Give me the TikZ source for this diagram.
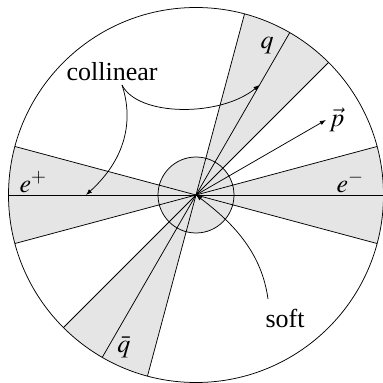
\documentclass[tikz,border=0pt]{standalone}
\usepackage{mathptmx}
\usepackage{fontspec}
\setmainfont{Liberation Serif}
\usetikzlibrary{arrows.meta}
\begin{document}
\begin{tikzpicture}[x=1pt,y=1pt,
  wedge/.style={fill=black!10},
  thin line/.style={line width=0.75pt},
  lbl/.style={inner sep=0pt,font=\fontsize{26}{31}\selectfont},
  tip/.style={-{Latex[length=6pt,width=4.5pt]}}]
\useasboundingbox (-196,-188) rectangle (187,195);
\def\R{187.5}
\coordinate (O) at (0,0);
% shaded regions
\fill[wedge] (O) -- (-15:\R) arc (-15:15:\R) -- cycle;
\fill[wedge] (O) -- (165:\R) arc (165:195:\R) -- cycle;
\fill[wedge] (O) -- (45:\R) arc (45:75:\R) -- cycle;
\fill[wedge] (O) -- (225:\R) arc (225:255:\R) -- cycle;
\fill[wedge] (O) circle (38);
\draw[thin line] (O) circle (38);
% boundary lines
\foreach \a in {-15,15,165,195,45,75,225,255,240}
  \draw[thin line] (O) -- (\a:\R);
\coordinate (Eleft) at (180:\R);
\coordinate (Eright) at (0:\R);
\draw[thin line] (Eleft) -- (Eright);
\coordinate (Qend) at (60:\R);
\draw[thin line] (O) -- (Qend);
% momentum arrow
\coordinate (P) at (30:150);
\draw[thin line,tip] (O) -- (P);
% big circle
\draw[thin line] (O) circle (\R);
% labels
\node[lbl] (q) at (71,149) {$q$};
\node[lbl] (p) at (141,75) {$\vec{p}$};
\node[lbl] (ep) at (-163,13) {$e^{+}$};
\node[lbl] (em) at (154,13) {$e^{-}$};
\node[lbl] (qb) at (-72,-152) {$\bar{q}$};
\node[lbl] (col) at (-84,123) {collinear};
\node[lbl] (soft) at (89,-123) {soft};
% annotation curves
\coordinate (cs) at (-74,110);
\coordinate (qt) at (60:127);
\coordinate (et) at (180:110);
\coordinate (ss) at (72,-104);
\draw[thin line,tip] (cs) .. controls (-58,78) and (25,78) .. (qt);
\draw[thin line,tip] (cs) .. controls (-64,80) and (-66,40) .. (et);
\draw[thin line,tip] (ss) .. controls (66,-60) and (40,-30) .. (O);
\end{tikzpicture}
\end{document}
